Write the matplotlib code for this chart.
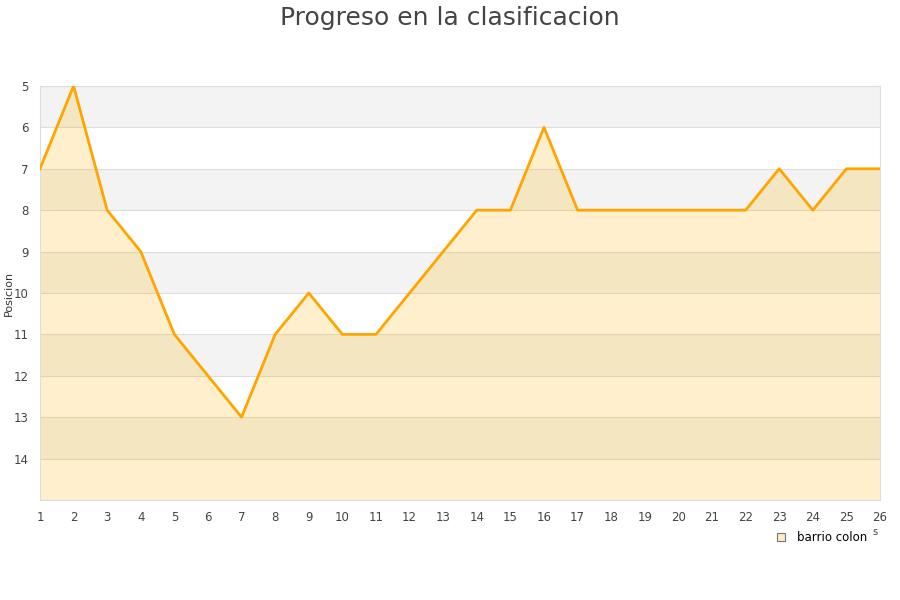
import matplotlib
matplotlib.use("Agg")
import matplotlib.pyplot as plt
from matplotlib.lines import Line2D

# datos
jornadas = list(range(1, 27))
posiciones = [7, 5, 8, 9, 11, 12, 13, 11, 10, 11, 11, 10, 9, 8, 8, 6, 8, 8, 8, 8, 8, 8, 7, 8, 7, 7]
equipo = "barrio colon"
y_ticks = [5, 6, 7, 8, 9, 10, 11, 12, 13, 14]

fig = plt.figure(figsize=(9, 6), dpi=100)
ax = fig.add_axes([0.0444, 0.1667, 0.9334, 0.69])

# bandas alternas
for y0 in range(5, 15, 2):
    ax.axhspan(y0, y0 + 1, color="#f3f3f3", zorder=0, lw=0)

for y in range(5, 16):
    ax.axhline(y, color="#dddddd", lw=0.8, zorder=1)

ax.fill_between(jornadas, posiciones, 15, color="#ffb300", alpha=0.2, lw=0, zorder=2)
ax.plot(jornadas, posiciones, color="#ffa500", lw=2, zorder=3)

ax.set_xlim(1, 26)
ax.set_ylim(15, 5)
ax.set_xticks(jornadas)
ax.set_yticks(y_ticks)
ax.tick_params(length=0, labelsize=8.5, colors="#444444", pad=8)
for s in ax.spines.values():
    s.set_color("#dddddd")
ax.set_ylabel("Posicion", fontsize=8, color="#333333")
ax.yaxis.set_label_coords(-0.031, 0.5)

fig.suptitle("Progreso en la clasificacion", fontsize=18, color="#444444", y=0.99)

handle = Line2D([], [], marker="s", ls="", markersize=6, markerfacecolor="#fdebc8",
                markeredgecolor="#777777", markeredgewidth=0.8)
leg = fig.legend([handle], [equipo], loc="upper right", bbox_to_anchor=(0.975, 0.133),
                 frameon=False, fontsize=8.5, handletextpad=0.3)
fig.text(0.969, 0.108, "s", fontsize=7, color="#444444")

fig.savefig("out.png", dpi=100)
